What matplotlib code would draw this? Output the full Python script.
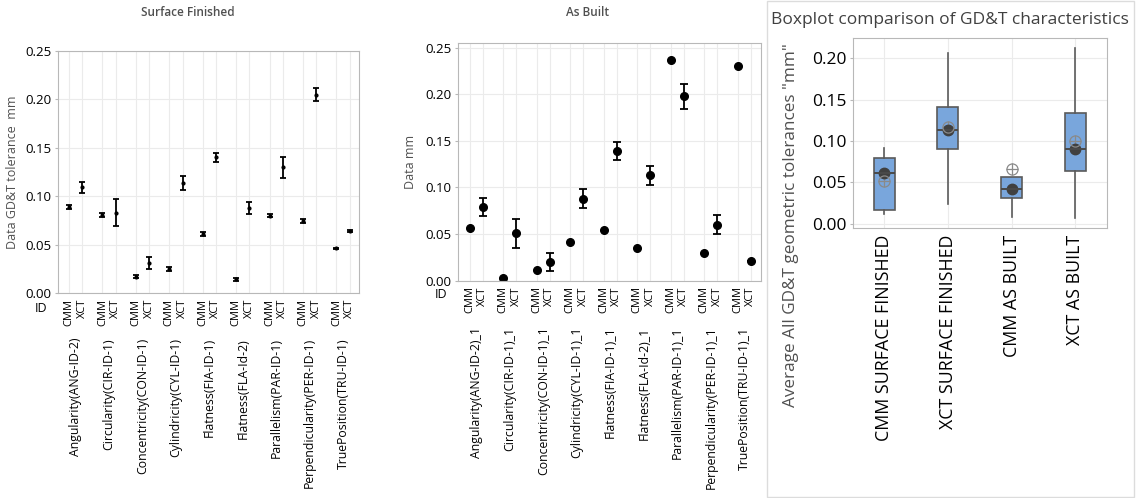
import numpy as np
import matplotlib
matplotlib.use("Agg")
import matplotlib.pyplot as plt
from matplotlib.patches import Rectangle

plt.rcParams['font.family'] = ['Open Sans', 'DejaVu Sans']

# ---- data ----
groups = ['Angularity(ANG-ID-2)', 'Circularity(CIR-ID-1)', 'Concentricity(CON-ID-1)',
          'Cylindricity(CYL-ID-1)', 'Flatness(FIA-ID-1)', 'Flatness(FLA-Id-2)',
          'Parallelism(PAR-ID-1)', 'Perpendicularity(PER-ID-1)', 'TruePosition(TRU-ID-1)']
groups_ab = [g + '_1' for g in groups]
methods = ['CMM', 'XCT']

sf_cmm = [0.089, 0.081, 0.017, 0.025, 0.061, 0.014, 0.080, 0.074, 0.046]
sf_cmm_err = [0.002, 0.002, 0.002, 0.002, 0.002, 0.002, 0.002, 0.002, 0.001]
sf_xct = [0.109, 0.083, 0.031, 0.114, 0.140, 0.088, 0.130, 0.205, 0.064]
sf_xct_err = [0.006, 0.0136, 0.006, 0.0072, 0.0047, 0.0062, 0.011, 0.0068, 0.001]

ab_cmm = [0.056, 0.003, 0.011, 0.042, 0.054, 0.035, 0.237, 0.030, 0.230]
ab_xct = [0.079, 0.051, 0.020, 0.088, 0.139, 0.113, 0.198, 0.060, 0.021]
ab_xct_err = [0.010, 0.0154, 0.0098, 0.0105, 0.0095, 0.0105, 0.0134, 0.0104, 0.0]

box_labels = ['CMM SURFACE FINISHED', 'XCT SURFACE FINISHED', 'CMM AS BUILT', 'XCT AS BUILT']
box_whislo = [0.012, 0.024, 0.008, 0.007]
box_q1 = [0.017, 0.090, 0.031, 0.064]
box_med = [0.061, 0.113, 0.042, 0.090]
box_q3 = [0.079, 0.141, 0.056, 0.134]
box_whishi = [0.092, 0.206, 0.056, 0.213]
box_mean = [0.051, 0.117, 0.066, 0.100]

W, H = 1140, 498
fig = plt.figure(figsize=(W / 100, H / 100), dpi=100)

grid_c = '#ebebeb'
spine_c = '#b8b8b8'
label_c = '#505050'


def fr(x0, y0, x1, y1):
    # pixel box -> figure fraction rect
    return [x0 / W, 1 - y1 / H, (x1 - x0) / W, (y1 - y0) / H]


def style(ax):
    for s in ax.spines.values():
        s.set_color(spine_c)
    ax.grid(True, color=grid_c, lw=0.8)
    ax.set_axisbelow(True)
    ax.tick_params(axis='y', length=2.5, color=spine_c, pad=2)
    ax.tick_params(axis='x', length=0)


off = 0.395
xpos = np.arange(len(groups))
ticks = np.concatenate([xpos, xpos + off])
tick_lbls = [methods[0]] * len(groups) + [methods[1]] * len(groups)
ylbls = ['0.00', '0.05', '0.10', '0.15', '0.20', '0.25']

# ---- Surface Finished ----
ax1 = fig.add_axes(fr(58, 51, 359, 293))
style(ax1)
ax1.errorbar(xpos, sf_cmm, yerr=sf_cmm_err, fmt='o', ms=2, color='black',
             elinewidth=1.3, capsize=2.5, capthick=1.3)
ax1.errorbar(xpos + off, sf_xct, yerr=sf_xct_err, fmt='o', ms=2, color='black',
             elinewidth=1.3, capsize=2.5, capthick=1.3)
ax1.set_xlim(-0.33, 8 + off + 0.28)
ax1.set_ylim(0, 0.25)
ax1.set_yticks([0, 0.05, 0.10, 0.15, 0.20, 0.25])
ax1.set_yticklabels(ylbls, fontsize=9.5)
ax1.set_xticks(ticks)
ax1.set_xticklabels(tick_lbls, rotation=90, fontsize=8, va='top')
ax1.tick_params(axis='x', pad=4)
for g, x in zip(groups, xpos + off / 2):
    ax1.annotate(g, xy=(x, 0), xycoords=('data', 'axes fraction'), xytext=(0, -45),
                 textcoords='offset pixels', rotation=90, ha='center', va='top', fontsize=8.8)
ax1.set_ylabel('Data GD&T tolerance  mm', fontsize=9, color=label_c, labelpad=5)
fig.text(188 / W, 1 - 12 / H, 'Surface Finished', ha='center', va='center',
         fontsize=8.5, color=label_c, fontweight='semibold')
fig.text(41 / W, 1 - 308 / H, 'ID', ha='center', va='center', fontsize=9)

# ---- As Built ----
ax2 = fig.add_axes(fr(458, 43.3, 761, 280.7))
style(ax2)
ax2.plot(xpos, ab_cmm, 'o', ms=5.5, color='black')
ax2.errorbar(xpos + off, ab_xct, yerr=ab_xct_err, fmt='o', ms=5.5, color='black',
             elinewidth=1.3, capsize=3, capthick=1.3)
ax2.set_xlim(-0.35, 8 + off + 0.30)
ax2.set_ylim(0, 0.2546)
ax2.set_yticks([0, 0.05, 0.10, 0.15, 0.20, 0.25])
ax2.set_yticklabels(ylbls, fontsize=9.5)
ax2.set_xticks(ticks)
ax2.set_xticklabels(tick_lbls, rotation=90, fontsize=8, va='top')
ax2.tick_params(axis='x', pad=4)
for g, x in zip(groups_ab, xpos + off / 2):
    ax2.annotate(g, xy=(x, 0), xycoords=('data', 'axes fraction'), xytext=(0, -46),
                 textcoords='offset pixels', rotation=90, ha='center', va='top', fontsize=8.8)
ax2.set_ylabel('Data mm', fontsize=9, color=label_c, labelpad=6)
fig.text(587 / W, 1 - 12 / H, 'As Built', ha='center', va='center',
         fontsize=8.5, color=label_c, fontweight='semibold')
fig.text(441 / W, 1 - 294 / H, 'ID', ha='center', va='center', fontsize=9)

# ---- Boxplot ----
fig.patches.append(Rectangle((767 / W, 0.002), (1134 - 767) / W, 0.996, transform=fig.transFigure,
                             fill=False, edgecolor='#dcdcdc', lw=1))
ax3 = fig.add_axes(fr(853, 38, 1107, 228))
style(ax3)
stats = []
for i in range(len(box_labels)):
    stats.append(dict(label=box_labels[i], whislo=box_whislo[i], q1=box_q1[i], med=box_med[i],
                      q3=box_q3[i], whishi=box_whishi[i], mean=box_mean[i], fliers=[]))
pos = np.arange(1, len(box_labels) + 1)
ax3.bxp(stats, positions=pos, widths=0.33, patch_artist=True, showcaps=False,
        showfliers=False, showmeans=True,
        boxprops=dict(facecolor='#79a6dc', edgecolor='#5a5a5a', lw=1.2),
        whiskerprops=dict(color='#5a5a5a', lw=1.2),
        medianprops=dict(color='#4a4a4a', lw=1.4),
        meanprops=dict(marker='o', markerfacecolor='none', markeredgecolor='#8a8a8a',
                       markersize=8, markeredgewidth=0.9))
ax3.plot(pos, box_mean, '+', color='#8a8a8a', ms=8, mew=0.9)
ax3.plot(pos, box_med, 'o', color='#404040', ms=7.5)
ax3.set_xlim(0.51, 4.5)
ax3.set_ylim(-0.0053, 0.2247)
ax3.set_yticks([0, 0.05, 0.10, 0.15, 0.20])
ax3.set_yticklabels(ylbls[:5], fontsize=12.5)
ax3.set_xticks(pos)
ax3.set_xticklabels(box_labels, rotation=90, fontsize=12.8, va='top')
ax3.tick_params(axis='x', pad=5)
fig.text(950 / W, 1 - 20 / H, 'Boxplot comparison of GD&T characteristics', ha='center',
         va='center', fontsize=12.5, color='#404040')
fig.text(791 / W, 1 - 225 / H, 'Average All GD&T geometric tolerances "mm"', ha='center',
         va='center', rotation=90, fontsize=12.3, color=label_c)

fig.savefig('out.png', dpi=100)
